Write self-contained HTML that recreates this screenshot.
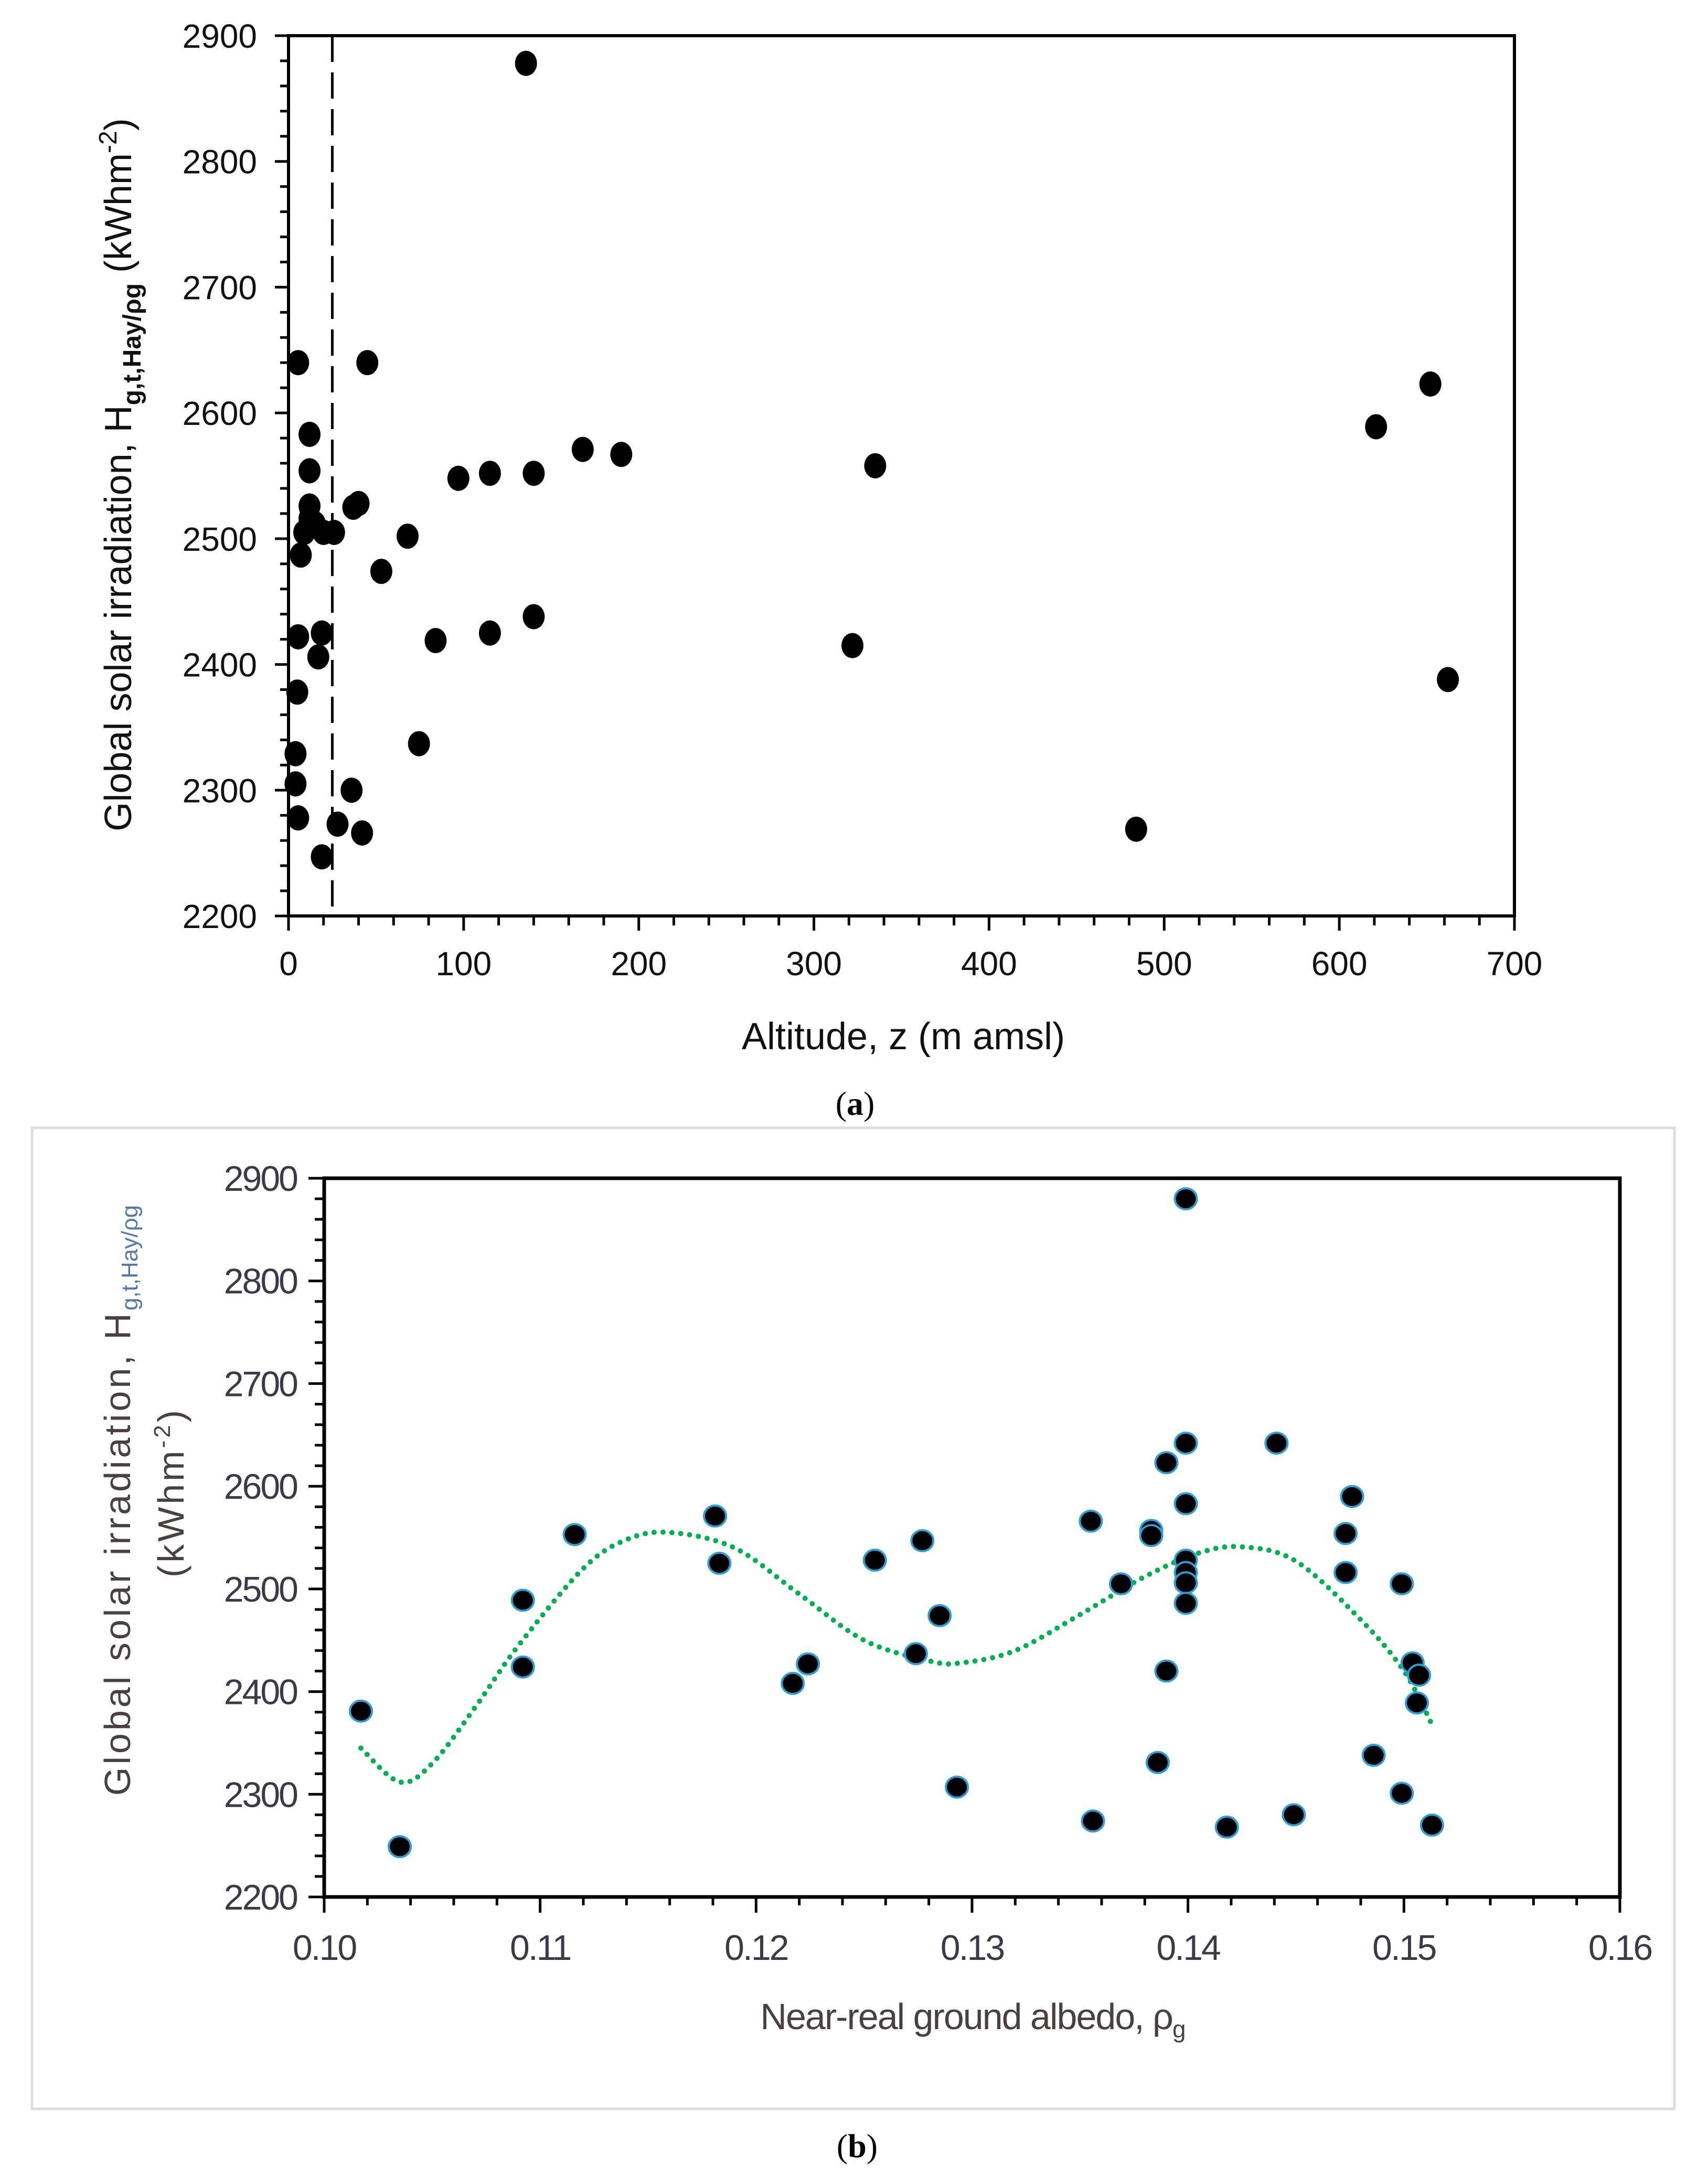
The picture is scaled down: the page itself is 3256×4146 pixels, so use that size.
<!DOCTYPE html>
<html><head><meta charset="utf-8"><style>
html,body{margin:0;padding:0;background:#fff;}
svg{display:block;}
</style></head><body>
<svg id="fig" width="3256" height="4146" viewBox="0 0 3256 4146" xmlns="http://www.w3.org/2000/svg">
<rect x="0" y="0" width="3256" height="4146" fill="#fff"/>
<g id="chartA"></g>
<text x="1630" y="2125" font-family="Liberation Serif, serif" font-size="64" text-anchor="middle">(<tspan font-weight="bold">a</tspan>)</text>
<rect x="61" y="2150" width="3131" height="1870" fill="none" stroke="#dcdcdc" stroke-width="5"/>
<g id="chartB"></g>
<text x="1634" y="4112" font-family="Liberation Serif, serif" font-size="64" text-anchor="middle">(<tspan font-weight="bold">b</tspan>)</text>
</svg>
<script>
// ---------- Chart A data ----------
const altX = [135.6,5.5,45,12,12,97,115,140,168,190,335,621,652,12,40,37,9,15,20,26,12,7,68,53,5.5,19,17,84,115,140,322,662,5,4,4,5.5,74.5,36,28,42,19,484];
const altY = [2878,2640,2640,2583,2554,2548,2552,2552,2571,2567,2558,2589,2623,2526,2528,2525,2505,2512,2505,2505,2516,2487,2502,2474,2422,2425,2406,2419,2425,2438,2415,2388,2378,2329,2305,2278,2337,2300,2273,2266,2247,2269];
const altXTicks = [0,100,200,300,400,500,600,700];
const altYTicks = [2200,2300,2400,2500,2600,2700,2800,2900];
const altThreshold = [25];
// ---------- Chart B data ----------
const albX = [0.1017,0.1035,0.1092,0.1092,0.1116,0.1181,0.1183,0.1217,0.1224,0.1255,0.1277,0.1274,0.1285,0.1293,0.1355,0.1356,0.1369,0.1383,0.1383,0.1386,0.1390,0.1390,0.1399,0.1399,0.1399,0.1399,0.1399,0.1399,0.1399,0.1441,0.1418,0.1449,0.1473,0.1473,0.1476,0.1486,0.1499,0.1499,0.1504,0.1507,0.1506,0.1513];
const albY = [2381,2249,2489,2424,2553,2571,2525,2408,2427,2528,2547,2437,2474,2307,2566,2274,2505,2557,2552,2331,2420,2623,2642,2583,2528,2516,2506,2486,2880,2642,2268,2280,2554,2516,2590,2338,2505,2301,2428,2416,2389,2270];
const trendX = [0.1017,0.1035,0.105,0.107,0.109,0.112,0.114,0.116,0.119,0.122,0.125,0.128,0.1295,0.132,0.135,0.138,0.1405,0.1425,0.145,0.148,0.150,0.1513];
const trendY = [2345,2312,2330,2385,2445,2520,2548,2555,2540,2495,2450,2430,2428,2440,2475,2512,2535,2541,2527,2470,2420,2368];
const albXTicks = [0.10,0.11,0.12,0.13,0.14,0.15,0.16];
const albYTicks = [2200,2300,2400,2500,2600,2700,2800,2900];

const NS='http://www.w3.org/2000/svg';
function mk(parent,tag,attrs){const e=document.createElementNS(NS,tag);for(const k in attrs)e.setAttribute(k,attrs[k]);parent.appendChild(e);return e;}

// ===== Chart A =====
(function(){
const g=document.getElementById('chartA');
const L=550,R=2887,T=68,B=1746;
const xs=v=>L+(v-0)/(700-0)*(R-L);
const ys=v=>B-(v-2200)/(700)*(B-T);
const box=mk(g,'rect',{x:L,y:T,width:R-L,height:B-T,fill:'none',stroke:'#000','stroke-width':6});


for(let v=2200;v<=2900;v+=20){
  const maj=(v%100===0);
  const t=mk(g,'line',{x1:L-(maj?26:16),x2:L,y1:ys(v),y2:ys(v),stroke:'#000','stroke-width':5});
  
  
}
for(let v=0;v<=700;v+=20){
  const maj=(v%100===0);
  const t=mk(g,'line',{x1:xs(v),x2:xs(v),y1:B,y2:B+(maj?28:18),stroke:'#000','stroke-width':5});
  
  
}
altYTicks.forEach(v=>{
  const t=mk(g,'text',{x:L-60,y:ys(v)+23,'font-family':'Liberation Sans, sans-serif','font-size':64,'text-anchor':'end',fill:'#111'});
  t.textContent=v;
  
  
});
altXTicks.forEach(v=>{
  const t=mk(g,'text',{x:xs(v),y:B+113,'font-family':'Liberation Sans, sans-serif','font-size':64,'text-anchor':'middle',fill:'#111'});
  t.textContent=v;
  
  
});
altThreshold.forEach(v=>{
  const d=mk(g,'line',{x1:xs(v),x2:xs(v),y1:T,y2:B,stroke:'#000','stroke-width':5,'stroke-dasharray':'50 20'});
  
  
});
altX.forEach((x,i)=>{
  const c=mk(g,'ellipse',{cx:xs(x),cy:ys(altY[i]),rx:21,ry:24,fill:'#000'});
  
  
});
const xt=mk(g,'text',{x:1722,y:2000,'font-family':'Liberation Sans, sans-serif','font-size':72,'text-anchor':'middle',fill:'#111'});
xt.textContent='Altitude, z (m amsl)';


const yt=mk(g,'text',{x:0,y:0,transform:'translate(250,905) rotate(-90)','font-family':'Liberation Sans, sans-serif','font-size':72,'text-anchor':'middle',fill:'#111'});
yt.innerHTML='Global solar irradiation, H<tspan font-size="48" font-weight="bold" dy="18">g,t,Hay/ρg</tspan><tspan dy="-18"> (kWhm</tspan><tspan font-size="48" dy="-28">-2</tspan><tspan dy="28">)</tspan>';


})();

// ===== Chart B =====
(function(){
const g=document.getElementById('chartB');
const L=618,R=3088,T=2246,B=3616;
const xs=v=>L+(v-0.10)/(0.06)*(R-L);
const ys=v=>B-(v-2200)/700*(B-T);
const tc='#3a3a48';
const ax=mk(g,'path',{d:`M${L} ${T} H${R} V${B} H${L} Z`,fill:'none',stroke:'#000','stroke-width':7});


for(let v=2200;v<=2900;v+=20){
  const maj=(v%100===0);
  const t=mk(g,'line',{x1:L-(maj?30:18),x2:L,y1:ys(v),y2:ys(v),stroke:'#000','stroke-width':5});
  
  
}
for(let i=0;i<=30;i++){
  const v=0.10+i*0.002, maj=(i%5===0);
  const t=mk(g,'line',{x1:xs(v),x2:xs(v),y1:B,y2:B+(maj?30:16),stroke:'#000','stroke-width':5});
  
  
}
albYTicks.forEach(v=>{
  const t=mk(g,'text',{x:L-52,y:ys(v)+24,'font-family':'Liberation Sans, sans-serif','font-size':68,'text-anchor':'end',fill:tc,'letter-spacing':'-3'});
  t.textContent=v;
  
  
});
albXTicks.forEach(v=>{
  const t=mk(g,'text',{x:xs(v),y:B+120,'font-family':'Liberation Sans, sans-serif','font-size':68,'text-anchor':'middle',fill:tc,'letter-spacing':'-3'});
  t.textContent=v.toFixed(2);
  
  
});
// smooth catmull-rom path through trend samples
const P=trendX.map((x,i)=>[xs(x),ys(trendY[i])]);
let d='M'+P[0][0].toFixed(1)+' '+P[0][1].toFixed(1);
for(let i=0;i<P.length-1;i++){
  const p0=P[Math.max(0,i-1)],p1=P[i],p2=P[i+1],p3=P[Math.min(P.length-1,i+2)];
  const c1=[p1[0]+(p2[0]-p0[0])/6,p1[1]+(p2[1]-p0[1])/6];
  const c2=[p2[0]-(p3[0]-p1[0])/6,p2[1]-(p3[1]-p1[1])/6];
  d+=` C${c1[0].toFixed(1)} ${c1[1].toFixed(1)} ${c2[0].toFixed(1)} ${c2[1].toFixed(1)} ${p2[0].toFixed(1)} ${p2[1].toFixed(1)}`;
}
const tr=mk(g,'path',{d:d,fill:'none',stroke:'#00b050','stroke-width':10,'stroke-linecap':'round','stroke-dasharray':'0 17'});


albX.forEach((x,i)=>{
  const c=mk(g,'ellipse',{cx:xs(x),cy:ys(albY[i]),rx:21,ry:20,fill:'#000',stroke:'#2a9fd8','stroke-width':4});
  
  
});
const xt=mk(g,'text',{x:1854,y:3868,'font-family':'Liberation Sans, sans-serif','font-size':70,'text-anchor':'middle',fill:'#4a4040','letter-spacing':'-2'});
xt.innerHTML='Near-real ground albedo, ρ<tspan font-size="46" dy="16">g</tspan>';


const yt=mk(g,'text',{x:0,y:0,transform:'translate(248,2860) rotate(-90)','font-family':'Liberation Sans, sans-serif','font-size':70,'text-anchor':'middle',fill:'#4a4040','letter-spacing':'5'});
yt.innerHTML='Global solar irradiation, H<tspan font-size="44" fill="#5577aa" dy="14" letter-spacing="0">g,t,Hay/ρg</tspan>';


const yt2=mk(g,'text',{x:0,y:0,transform:'translate(350,2845) rotate(-90)','font-family':'Liberation Sans, sans-serif','font-size':70,'text-anchor':'middle',fill:'#4a4040','letter-spacing':'5'});
yt2.innerHTML='(kWhm<tspan font-size="44" dy="-26">-2</tspan><tspan dy="26">)</tspan>';


})();
</script>
</body></html>
